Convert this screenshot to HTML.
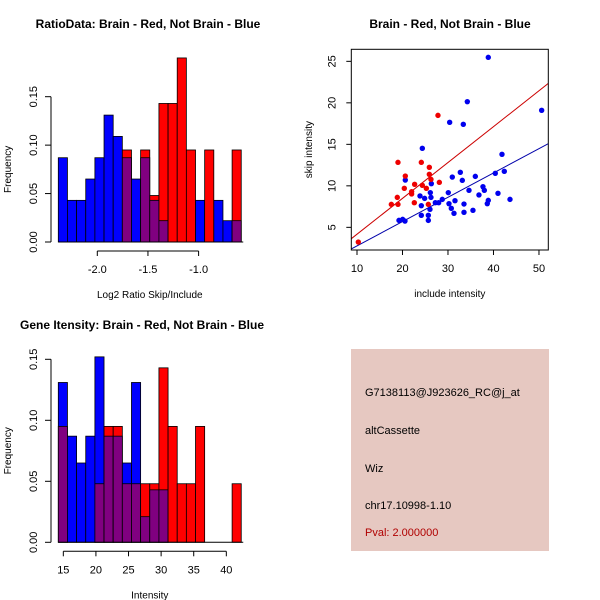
<!DOCTYPE html>
<html><head><meta charset="utf-8"><style>
body{margin:0;background:#fff}
svg{display:block;font-family:"Liberation Sans",sans-serif}
</style></head><body>
<svg id="c" width="600" height="600" viewBox="0 0 600 600">
<rect width="600" height="600" fill="#fff"/>
<rect x="351" y="349" width="198" height="202" fill="#e6c8c1"/>
<g font-size="11" fill="#000">
<text x="365" y="396">G7138113@J923626_RC@j_at</text>
<text x="365" y="434">altCassette</text>
<text x="365" y="472">Wiz</text>
<text x="365" y="509">chr17.10998-1.10</text>
<text x="365" y="536" fill="#b00000">Pval: 2.000000</text>
</g>
</svg>
<script>
// Histogram 1 data
const h1Blue=[0.087,0.043,0.043,0.065,0.087,0.131,0.109,0.087,0.065,0.087,0.043,0.022,0,0,0,0.043,0,0.043,0.022,0.022];
const h1Red=[0,0,0,0,0,0,0,0.095,0,0.095,0.048,0.143,0.143,0.19,0.095,0,0.095,0,0,0.095];
const h1Ticks=[-2.0,-1.5,-1.0];
const h1YTicks=[0,0.05,0.10,0.15];
// Histogram 2 data
const h2Blue=[0.131,0.087,0.065,0.087,0.152,0.087,0.087,0.065,0.131,0.021,0.043,0.043,0,0,0,0,0,0,0,0];
const h2Red=[0.095,0,0,0,0.048,0.095,0.095,0.048,0.048,0.048,0.048,0.143,0.095,0.048,0.048,0.095,0,0,0,0.048];
const h2Ticks=[15,20,25,30,35,40];
const h2YTicks=[0,0.05,0.10,0.15];
// Scatter data
const redX=[10.29,17.55,19.01,18.86,19.01,20.40,20.62,22.01,22.01,22.60,22.67,24.14,24.36,25.24,25.68,25.90,25.90,26.26,28.10,27.80];
const redY=[3.23,7.77,7.77,8.61,12.83,9.70,11.18,9.30,9.02,7.97,10.18,12.83,10.06,9.70,7.77,12.23,11.39,10.78,10.42,18.49];
const blueX=[19.23,20.04,20.55,20.62,23.85,24.14,24.14,24.36,24.87,25.68,25.68,26.04,26.12,26.26,26.34,27.22,27.95,28.75,30.07,30.22,30.37,30.73,30.95,31.32,31.54,32.71,33.15,33.37,33.52,33.52,34.25,34.62,35.49,36.01,36.81,37.69,37.99,38.64,38.86,38.86,40.40,40.99,41.87,42.38,43.63,50.59];
const blueY=[5.84,5.96,5.76,10.70,8.78,7.61,6.45,14.52,8.49,6.45,5.84,7.17,9.18,8.61,10.26,7.97,7.97,8.37,9.18,7.85,17.65,7.29,11.06,6.69,8.21,11.63,10.66,17.41,7.81,6.81,20.14,9.46,7.05,11.14,8.90,9.90,9.46,7.85,8.25,25.48,11.51,9.10,13.80,11.75,8.37,19.10];
const redFit=[-0.15,0.432];
const blueFit=[-0.17,0.293];
const sxTicks=[10,20,30,40,50];
const syTicks=[5,10,15,20,25];

const svg=document.getElementById('c');
const NS='http://www.w3.org/2000/svg';
function mk(tag,attrs,parent){const e=document.createElementNS(NS,tag);for(const k in attrs)e.setAttribute(k,attrs[k]);(parent||svg).appendChild(e);return e;}
function txt(x,y,s,opts,parent){const t=mk('text',Object.assign({x:x,y:y,'font-size':11,'text-anchor':'middle'},opts||{}),parent);t.textContent=s;return t;}

function hist(cfg){
  const g=mk('g',{});
  
  
  const sx=v=>cfg.x0px+(v-cfg.x0)*cfg.pxPerX;
  const sy=v=>cfg.base-v*cfg.pxPerY;
  const n=cfg.blue.length;
  for(let i=0;i<n;i++){
    const xl=sx(cfg.x0+i*cfg.bw), xr=sx(cfg.x0+(i+1)*cfg.bw);
    const b=cfg.blue[i], r=cfg.red[i];
    const mx=Math.max(b,r), mn=Math.min(b,r);
    if(mx>0){
      const top=mk('rect',{x:xl,y:sy(mx),width:xr-xl,height:sy(0)-sy(mx),fill:b>=r?'#0000ff':'#ff0000',stroke:'#000','stroke-width':0.8},g);
      
      
    }
    if(mn>0){
      const p=mk('rect',{x:xl,y:sy(mn),width:xr-xl,height:sy(0)-sy(mn),fill:'#800080',stroke:'#000','stroke-width':0.8},g);
      
      
    }
  }
  mk('line',{x1:sx(cfg.x0),x2:sx(cfg.x0+n*cfg.bw)+2,y1:cfg.base,y2:cfg.base,stroke:'#000'},g);
  const ya=mk('g',{},g);
  
  
  const ax=cfg.yAxisX;
  mk('line',{x1:ax,x2:ax,y1:sy(cfg.yT[0]),y2:sy(cfg.yT[cfg.yT.length-1]),stroke:'#000'},ya);
  cfg.yT.forEach(v=>{mk('line',{x1:ax-6,x2:ax,y1:sy(v),y2:sy(v),stroke:'#000'},ya);
    txt(0,0,v.toFixed(2),{transform:`translate(${ax-14},${sy(v)}) rotate(-90)`},ya);});
  const yt=txt(0,0,'Frequency',{'font-size':10,transform:`translate(11,${(cfg.base+sy(cfg.yT[cfg.yT.length-1]))/2}) rotate(-90)`},g);
  
  
  const xa=mk('g',{},g);
  
  
  const ay=cfg.base+9;
  mk('line',{x1:sx(cfg.xT[0]),x2:sx(cfg.xT[cfg.xT.length-1]),y1:ay,y2:ay,stroke:'#000'},xa);
  cfg.xT.forEach(v=>{mk('line',{x1:sx(v),x2:sx(v),y1:ay,y2:ay+5,stroke:'#000'},xa);
    txt(sx(v),ay+22,cfg.fmt(v),{},xa);});
  const xt=txt((sx(cfg.x0)+sx(cfg.x0+n*cfg.bw))/2,cfg.base+56,cfg.xlab,{'font-size':10},g);
  
  
  const tt=txt(cfg.tx,cfg.ty,cfg.title,{'font-size':12,'font-weight':'bold'},g);
  
  
}
hist({name:'ratio-histogram',blue:h1Blue,red:h1Red,x0:-2.385,bw:0.0903,x0px:58.3,pxPerX:101.3,base:242,pxPerY:968.7,
  yAxisX:51,yT:h1YTicks,xT:h1Ticks,fmt:v=>v.toFixed(1),xlab:'Log2 Ratio Skip/Include',
  title:'RatioData: Brain - Red, Not Brain - Blue',tx:148,ty:28});
hist({name:'intensity-histogram',blue:h2Blue,red:h2Red,x0:14.23,bw:1.403,x0px:58.3,pxPerX:6.52,base:542.3,pxPerY:1220,
  yAxisX:51,yT:h2YTicks,xT:h2Ticks,fmt:v=>String(v),xlab:'Intensity',
  title:'Gene Itensity: Brain - Red, Not Brain - Blue',tx:142,ty:329});

(function(){
  const g=mk('g',{});
  
  
  const L=351.3,R=548.3,T=49.3,B=250,xmin=8.75,xmax=52.05,ymin=2.27,ymax=26.45;
  const sx=v=>L+(v-xmin)*(R-L)/(xmax-xmin);
  const sy=v=>B-(v-ymin)*(B-T)/(ymax-ymin);
  const cp=mk('clipPath',{id:'sc'},g);mk('rect',{x:L,y:T,width:R-L,height:B-T},cp);
  const lr=mk('line',{x1:sx(xmin),y1:sy(redFit[0]+redFit[1]*xmin),x2:sx(xmax),y2:sy(redFit[0]+redFit[1]*xmax),stroke:'#cc0000','clip-path':'url(#sc)'},g);
  
  
  const lb=mk('line',{x1:sx(xmin),y1:sy(blueFit[0]+blueFit[1]*xmin),x2:sx(xmax),y2:sy(blueFit[0]+blueFit[1]*xmax),stroke:'#0000aa','clip-path':'url(#sc)'},g);
  
  
  blueX.forEach((x,i)=>{const c=mk('circle',{cx:sx(x),cy:sy(blueY[i]),r:2.7,fill:'#0000ee'},g);
    
    });
  redX.forEach((x,i)=>{const c=mk('circle',{cx:sx(x),cy:sy(redY[i]),r:2.7,fill:'#ee0000'},g);
    
    });
  mk('rect',{x:L,y:T,width:R-L,height:B-T,fill:'none',stroke:'#000'},g);
  sxTicks.forEach(v=>{mk('line',{x1:sx(v),x2:sx(v),y1:B,y2:B+5,stroke:'#000'},g);txt(sx(v),B+22,String(v),{},g);});
  syTicks.forEach(v=>{mk('line',{x1:L-5,x2:L,y1:sy(v),y2:sy(v),stroke:'#000'},g);
    txt(0,0,String(v),{transform:`translate(${L-16},${sy(v)}) rotate(-90)`},g);});
  const xt=txt((L+R)/2,297,'include intensity',{'font-size':10},g);
  
  
  const yt=txt(0,0,'skip intensity',{'font-size':10,transform:`translate(312,${(T+B)/2}) rotate(-90)`},g);
  
  
  const tt=txt(450,28,'Brain - Red, Not Brain - Blue',{'font-size':12,'font-weight':'bold'},g);
  
  
})();
</script>
</body></html>
